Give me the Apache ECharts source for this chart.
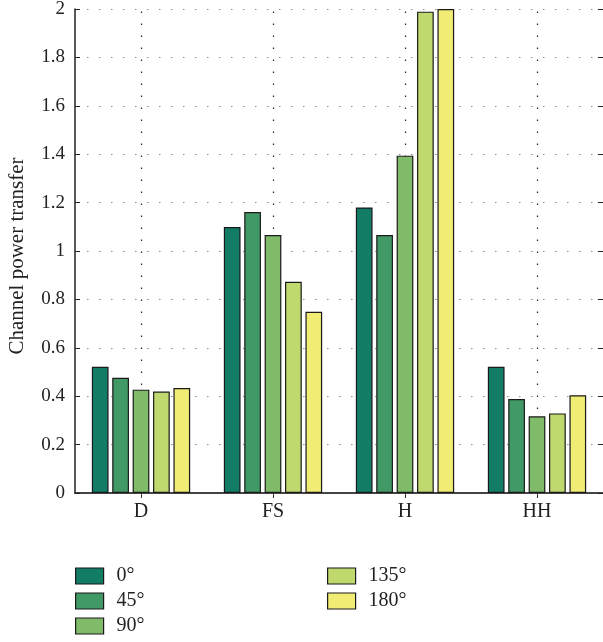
<!DOCTYPE html>
<html>
<head>
<meta charset="utf-8">
<script src="https://cdn.jsdelivr.net/npm/echarts@6/dist/echarts.min.js"></script>
<style>html,body{margin:0;padding:0;background:#fff}#c{width:603px;height:642px}</style>
</head>
<body>
<div id="c"></div>
<script>
const categories = ['D', 'FS', 'H', 'HH'];
const seriesNames = ['0°', '45°', '90°', '135°', '180°'];
const s0 = [0.522, 1.099, 1.180, 0.522];
const s45 = [0.476, 1.161, 1.066, 0.388];
const s90 = [0.427, 1.066, 1.394, 0.317];
const s135 = [0.419, 0.873, 1.989, 0.329];
const s180 = [0.434, 0.749, 2.000, 0.404];
const yTicks = [0, 0.2, 0.4, 0.6, 0.8, 1, 1.2, 1.4, 1.6, 1.8, 2];
const colors = ['#127c64', '#419a66', '#80bb6a', '#c0d96f', '#f0ec74'];
const allData = [s0, s45, s90, s135, s180];
const font = '"Liberation Serif", "Times New Roman", serif';

const chart = echarts.init(document.getElementById('c'));
const legendLeft = [75, 75, 75, 327, 327];
const legendTop = [566, 591, 616, 566, 591];
const legends = seriesNames.map((n, i) => ({
  data: [n], orient: 'vertical', left: legendLeft[i], top: legendTop[i], padding: 0,
  itemWidth: 28, itemHeight: 16, icon: 'rect',
  itemStyle: { borderColor: '#1a1a1a', borderWidth: 1.2 },
  textStyle: { fontSize: 20, lineHeight: 16, color: '#222', fontFamily: font, padding: [0, 0, 0, 8] }
}));

const series = seriesNames.map((n, i) => ({
  name: n, type: 'bar', data: allData[i], xAxisIndex: 0, yAxisIndex: 0, z: 3,
  barCategoryGap: '25.5%', barGap: '22%',
  itemStyle: { color: colors[i], borderColor: '#1a1a1a', borderWidth: 1.2 }
}));
series.push({
  name: 'grid-v', type: 'line', data: [], xAxisIndex: 0, yAxisIndex: 0, z: 1,
  markLine: {
    silent: true, symbol: 'none', label: { show: false }, animation: false, z: 1,
    lineStyle: { color: '#222', type: [1.5, 10.5], width: 1.2 },
    data: categories.map(c => ({ xAxis: c }))
  }
});

chart.setOption({
  animation: false,
  textStyle: { fontFamily: font, color: '#222' },
  grid: { left: 75, right: 0, top: 9, bottom: 149, containLabel: false, outerBoundsMode: 'none' },
  xAxis: [{
    type: 'category', data: categories, position: 'bottom',
    axisLine: { show: true, lineStyle: { color: '#555', width: 1.5 } },
    axisTick: { show: false },
    axisLabel: { fontSize: 20, color: '#222', margin: 9, fontFamily: font },
    splitLine: { show: false }
  }, {
    type: 'category', data: categories, position: 'top',
    axisLine: { show: true, lineStyle: { color: '#333', width: 1.5 } },
    axisTick: { show: true, inside: true, alignWithLabel: true, length: 5, lineStyle: { color: '#333' } },
    axisLabel: { show: false }, splitLine: { show: false }
  }],
  yAxis: [{
    type: 'value', min: 0, max: 2, interval: 0.2,
    name: 'Channel power transfer', nameLocation: 'middle', nameGap: 47,
    nameTextStyle: { fontSize: 21, color: '#222', fontFamily: font, padding: [0, 10, 0, 0] },
    axisLine: { show: true, lineStyle: { color: '#222', width: 1.5 } },
    axisTick: { show: true, inside: true, length: 5, lineStyle: { color: '#222' } },
    axisLabel: { fontSize: 19, color: '#222', margin: 10, fontFamily: font,
      formatter: v => { const t = yTicks.find(x => Math.abs(x - v) < 1e-6); return t === undefined ? '' : String(t); } },
    splitLine: { show: true, lineStyle: { color: '#888', type: [1.5, 10.5], width: 1.2 } }
  }, {
    type: 'value', min: 0, max: 2, interval: 0.2, position: 'right',
    axisLine: { show: false },
    axisTick: { show: true, inside: true, length: 5, lineStyle: { color: '#222' } },
    axisLabel: { show: false }, splitLine: { show: false }
  }],
  legend: legends,
  series: series
});
</script>
</body>
</html>
